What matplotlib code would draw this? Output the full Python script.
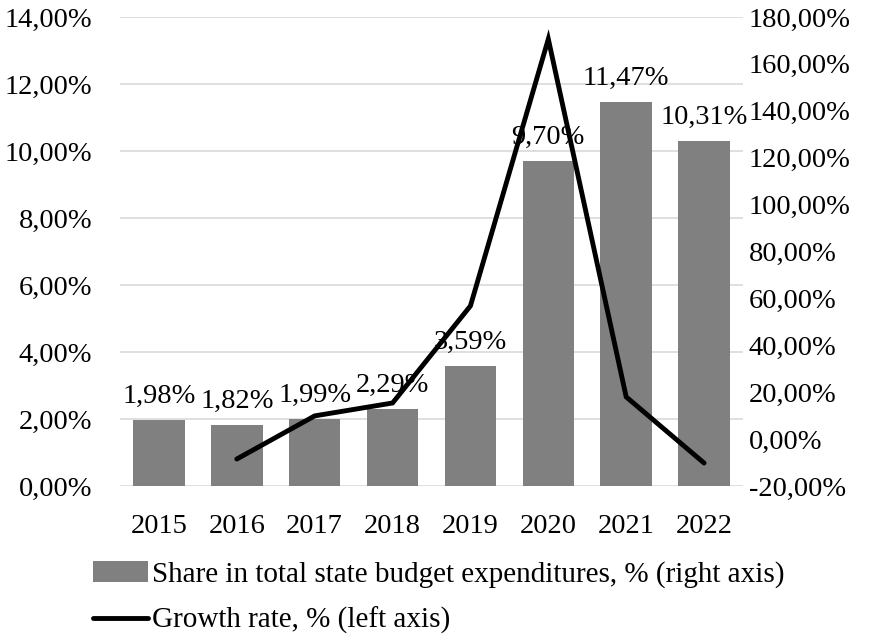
import numpy as np
import matplotlib
matplotlib.use("Agg")
import matplotlib.pyplot as plt
from matplotlib.ticker import FuncFormatter

plt.rcParams['font.family'] = ['Liberation Serif', 'DejaVu Serif']

years = ['2015', '2016', '2017', '2018', '2019', '2020', '2021', '2022']
share = [1.98, 1.82, 1.99, 2.29, 3.59, 9.70, 11.47, 10.31]
share_labels = ['1,98%', '1,82%', '1,99%', '2,29%', '3,59%', '9,70%', '11,47%', '10,31%']
growth_years = ['2016', '2017', '2018', '2019', '2020', '2021', '2022']
growth = [-8.5, 9.9, 15.4, 56.8, 170.6, 18.0, -10.2]

FS = 20.5

def pct(v, pos):
    return f"{v:.2f}%".replace('.', ',')

fig = plt.figure(figsize=(8.78, 6.41), dpi=100)
ax = fig.add_axes([120 / 878, 1 - 486 / 641, (743 - 120) / 878, (486 - 17) / 641])
ax2 = ax.twinx()

x = np.arange(len(years))
bars = ax.bar(x, share, width=0.66, color='#808080', zorder=2)
for xi, v, lab in zip(x, share, share_labels):
    ax.annotate(lab, (xi, v), xytext=(0, 8), textcoords='offset points',
                ha='center', va='bottom', fontsize=FS)

gx = [years.index(y) for y in growth_years]
line, = ax2.plot(gx, growth, color='black', lw=3.5, solid_capstyle='round',
                 solid_joinstyle='miter')

ax.set_xlim(-0.5, len(years) - 0.5)
ax.set_ylim(0, 14)
ax.set_yticks(np.arange(0, 14.1, 2))
ax2.set_ylim(-20, 180)
ax2.set_yticks(np.arange(-20, 181, 20))
ax.yaxis.set_major_formatter(FuncFormatter(pct))
ax2.yaxis.set_major_formatter(FuncFormatter(pct))
ax.set_xticks(x)
ax.set_xticklabels(years)

ax.grid(axis='y', color='#d9d9d9', lw=1.2, zorder=0)
ax.set_axisbelow(True)
for a in (ax, ax2):
    for s in a.spines.values():
        s.set_visible(False)
    a.tick_params(length=0, labelsize=FS)
ax.tick_params(axis='y', pad=20)
ax2.tick_params(axis='y', pad=4)
ax.tick_params(axis='x', pad=20)

fig.legend([bars, line],
           ['Share in total state budget expenditures, % (right axis)',
            'Growth rate, % (left axis)'],
           loc='upper left', bbox_to_anchor=(93 / 878, 1 - 561 / 641),
           frameon=False, fontsize=21, handlelength=1.89, handletextpad=0.13,
           labelspacing=0.65, borderpad=0, borderaxespad=0)

fig.savefig('out.png', dpi=100)
